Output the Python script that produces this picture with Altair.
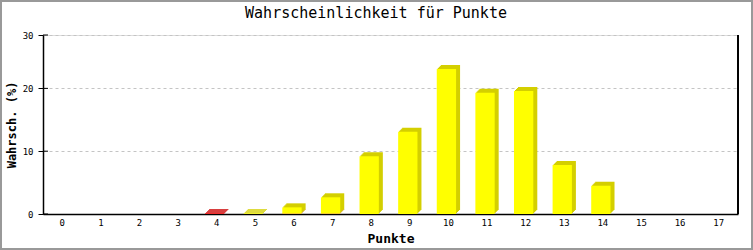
import altair as alt
import pandas as pd

points = list(range(18))
red_vals = [0, 0, 0, 0, 0.12, 0, 0.06, 0.06, 0, 0, 0, 0, 0, 0, 0, 0, 0, 0]
yellow_vals = [0, 0, 0, 0, 0, 0.12, 1.0, 2.6, 9.2, 13.1, 23.1, 19.3, 19.6, 7.8, 4.5, 0, 0, 0]
y_ticks = [0, 10, 20, 28.5]
title_text = ["Wahrscheinlichkeit für Punkte"]

rows = []
for p, r, yv in zip(points, red_vals, yellow_vals):
    rows.append({"pts": str(p), "series": "rot", "start": 0, "end": r})
    rows.append({"pts": str(p), "series": "gelb", "start": r, "end": r + yv})
df = pd.DataFrame(rows)
df = df[df["end"] > df["start"]]

W, H = 695, 179
FONT = "DejaVu Sans Mono"
order = [str(p) for p in points]

xscale = alt.Scale(domain=order, paddingInner=0.5, paddingOuter=0.25)
yscale = alt.Scale(domain=[0, 28.5], nice=False)

base = alt.Chart(df)

def bar_layer(series, color, k):
    off_x = -2 + k
    return base.transform_filter(alt.datum.series == series).mark_bar(
        color=color, xOffset=off_x, x2Offset=off_x, yOffset=-k, y2Offset=-k
    ).encode(
        x=alt.X("pts:O", scale=xscale, sort=order,
                axis=alt.Axis(title="Punkte", labelAngle=0, ticks=False,
                              domainColor="black", domainWidth=1.5,
                              labelFont=FONT, labelFontSize=9, labelPadding=4,
                              titleFont=FONT, titleFontSize=13, titleFontWeight="bold",
                              titlePadding=5, labelColor="black", titleColor="black")),
        y=alt.Y("end:Q", scale=yscale,
                axis=alt.Axis(title="Wahrsch. (%)", values=y_ticks,
                              labelExpr="datum.value > 25 ? '30' : format(datum.value, 'd')",
                              grid=True, gridDash=[3, 3], gridColor="#c4c4c4",
                              domainColor="black", domainWidth=1.5,
                              tickColor="black", tickSize=5,
                              labelFont=FONT, labelFontSize=9, labelPadding=5,
                              titleFont=FONT, titleFontSize=12, titleFontWeight="bold",
                              titlePadding=4, labelColor="black", titleColor="black")),
        y2="start:Q",
    )

layers = []
for series, front, side in [("rot", "#ff0000", "#cc0000"), ("gelb", "#ffff00", "#d4cf00")]:
    for k in [4, 3, 2, 1]:
        layers.append(bar_layer(series, side, k))
    layers.append(bar_layer(series, front, 0))

tick_df = pd.DataFrame({"v": y_ticks})
inner_ticks = alt.Chart(tick_df).mark_rule(color="black").encode(
    y=alt.Y("v:Q", scale=yscale), x=alt.value(0), x2=alt.value(5)
)
right_line = alt.Chart(tick_df).mark_rule(color="black", strokeWidth=1.5).encode(
    x=alt.value(W), y=alt.value(0), y2=alt.value(H)
)
border = alt.Chart(pd.DataFrame({"a": [0]})).mark_rect(
    fill=None, stroke="#999999", strokeWidth=2
).encode(x=alt.value(-42), x2=alt.value(709), y=alt.value(-34), y2=alt.value(214))

title = alt.Chart(pd.DataFrame({"t": title_text})).mark_text(
    font=FONT, fontSize=15, color="black", align="center", baseline="middle"
).encode(text="t:N", x=alt.value(333), y=alt.value(-22))

chart = alt.layer(*layers, inner_ticks, right_line, border, title).properties(
    width=W, height=H,
    autosize=alt.AutoSizeParams(type="none"),
    padding={"left": 43, "top": 35, "right": 15, "bottom": 36},
).configure_view(stroke=None).configure(background="white")

chart.save("out.html", embed_options={"renderer": "svg", "actions": False})
